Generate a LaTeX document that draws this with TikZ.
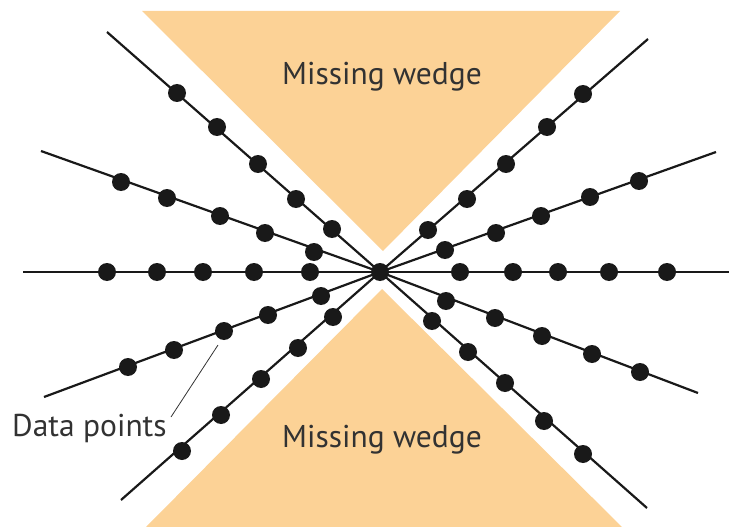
\documentclass[tikz,border=0pt]{standalone}
\usepackage{fontspec}
\setmainfont{PT Sans}
\definecolor{wedgecol}{RGB}{252,210,150}
\definecolor{txtcol}{RGB}{50,50,50}
\tikzset{
  ray/.style={line width=2.2pt, black!90},
  dp/.style={circle, fill=black!90, inner sep=0pt, minimum size=18pt},
  wedgefill/.style={fill=wedgecol, draw=none},
  lbl/.style={text=txtcol, font=\fontsize{31.5}{31.5}\selectfont, inner sep=0pt},
  lead/.style={line width=0.8pt, black!80}
}
\begin{document}
\begin{tikzpicture}[x=1pt,y=-1pt]
\useasboundingbox (0,0) rectangle (729,527);
% wedges
\fill[wedgefill] (142,11) -- (620,11) -- (383,251) -- cycle;
\fill[wedgefill] (382,289) -- (622,527) -- (146,527) -- cycle;
\node[lbl] (w1) at (382,77) {Missing wedge};
\node[lbl] (w2) at (382,440) {Missing wedge};
% center
\coordinate (c) at (380,272);
% ray ends
\coordinate (eH1) at (23,272);
\coordinate (eH2) at (729,272);
\coordinate (eA) at (107,32);
\coordinate (eB) at (41,151);
\coordinate (eC) at (648,39);
\coordinate (eD) at (716,152);
\coordinate (eE) at (44,397);
\coordinate (eF) at (121,500);
\coordinate (eG) at (698,393);
\coordinate (eI) at (647,508);
\foreach \e in {eH1,eH2,eA,eB,eC,eD,eE,eF,eG,eI}{\draw[ray] (c) -- (\e);}
% data points
\foreach \n/\x/\y in {
 h1/107/272, h2/157/272, h3/203/272, h4/254/272, h5/310/272,
 h6/460/272, h7/513/272, h8/558/272, h9/609/272, h10/667/272,
 a1/177/93, a2/217/127, a3/258/164, a4/296/199, a5/332/229,
 b1/121/182, b2/167/198, b3/220/216, b4/265/233, b5/314/252,
 c1/583/94, c2/547/127, c3/506/164, c4/467/199, c5/428/230,
 d1/639/181, d2/590/197, d3/541/216, d4/496/233, d5/445/250,
 e1/128/367, e2/174/350, e3/224/331, e4/268/315, e5/321/296,
 f1/182/451, f2/221/415, f3/261/379, f4/298/348, f5/333/317,
 g1/446/301, g2/495/318, g3/542/336, g4/592/354, g5/640/372,
 i1/432/321, i2/468/352, i3/505/383, i4/544/421, i5/583/454}
 {\node[dp] (\n) at (\x,\y) {};}
\node[dp] (cdot) at (c) {};
% label
\node[lbl, anchor=west] (dl) at (12,428) {Data points};
\coordinate (lt) at (218,345);
\coordinate (lb) at (171,417);
\draw[lead] (lt) -- (lb);
\end{tikzpicture}
\end{document}
